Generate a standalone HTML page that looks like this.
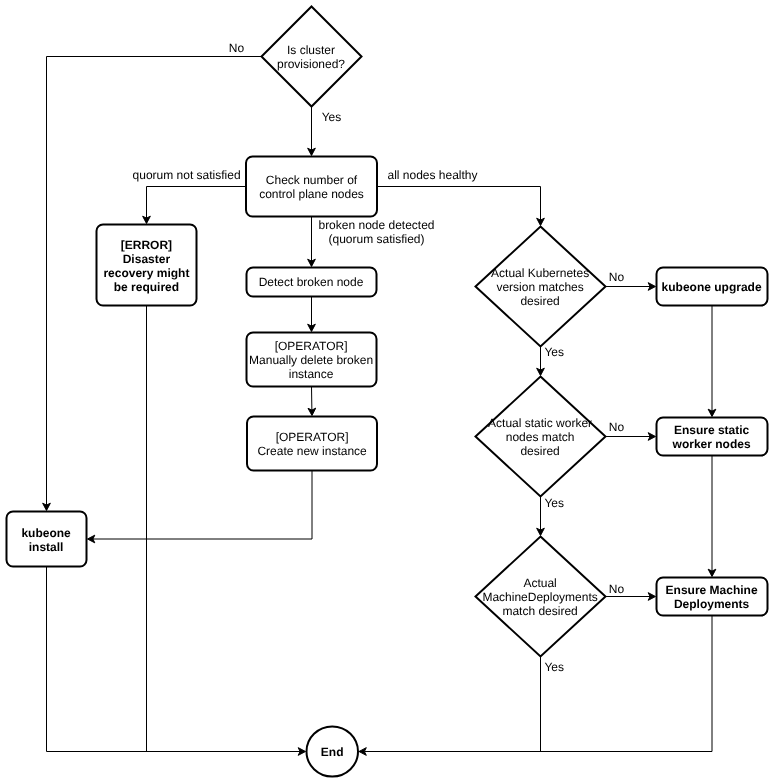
<!DOCTYPE html>
<html lang="en"><head><meta charset="utf-8"><title>KubeOne reconcile flow</title>
<style>
html,body{margin:0;padding:0;background:#fff;}
svg{display:block;will-change:transform;font-family:"Liberation Sans",Arial,sans-serif;fill:#000;text-rendering:geometricPrecision;}
</style></head><body>
<svg width="773" height="782" viewBox="0 0 773 782">
<rect x="0" y="0" width="773" height="782" fill="#fff"/>
<g>
<path d="M 261.5 56.5 L 46.5 56.5 L 46.5 505.1" fill="none" stroke="#000" stroke-miterlimit="10"/>
<path d="M 46.5 510.5 L 42.65 503.2 L 46.5 505.1 L 50.35 503.2 Z" fill="#000" stroke="#000" stroke-miterlimit="10"/>
<path d="M 311.5 106.5 L 311.5 150.1" fill="none" stroke="#000" stroke-miterlimit="10"/>
<path d="M 311.5 155.5 L 307.65 148.2 L 311.5 150.1 L 315.35 148.2 Z" fill="#000" stroke="#000" stroke-miterlimit="10"/>
<path d="M 246 186.5 L 146.5 186.5 L 146.5 218.1" fill="none" stroke="#000" stroke-miterlimit="10"/>
<path d="M 146.5 223.5 L 142.65 216.2 L 146.5 218.1 L 150.35 216.2 Z" fill="#000" stroke="#000" stroke-miterlimit="10"/>
<path d="M 377 186.5 L 540.5 186.5 L 540.5 220.1" fill="none" stroke="#000" stroke-miterlimit="10"/>
<path d="M 540.5 225.5 L 536.65 218.2 L 540.5 220.1 L 544.35 218.2 Z" fill="#000" stroke="#000" stroke-miterlimit="10"/>
<path d="M 311.5 216.5 L 311.5 261.1" fill="none" stroke="#000" stroke-miterlimit="10"/>
<path d="M 311.5 266.5 L 307.65 259.2 L 311.5 261.1 L 315.35 259.2 Z" fill="#000" stroke="#000" stroke-miterlimit="10"/>
<path d="M 311.5 296.5 L 311.5 326.1" fill="none" stroke="#000" stroke-miterlimit="10"/>
<path d="M 311.5 331.5 L 307.65 324.2 L 311.5 326.1 L 315.35 324.2 Z" fill="#000" stroke="#000" stroke-miterlimit="10"/>
<path d="M 311.5 386.5 L 311.89 410.1" fill="none" stroke="#000" stroke-miterlimit="10"/>
<path d="M 311.98 415.5 L 308.01 408.27 L 311.89 410.1 L 315.71 408.14 Z" fill="#000" stroke="#000" stroke-miterlimit="10"/>
<path d="M 312 470.5 L 312 539 L 92.9 539" fill="none" stroke="#000" stroke-miterlimit="10"/>
<path d="M 87.5 539 L 94.8 535.15 L 92.9 539 L 94.8 542.85 Z" fill="#000" stroke="#000" stroke-miterlimit="10"/>
<path d="M 46.5 566.5 L 46.5 751.5 L 300.1 751.5" fill="none" stroke="#000" stroke-miterlimit="10"/>
<path d="M 305.5 751.5 L 298.2 755.35 L 300.1 751.5 L 298.2 747.65 Z" fill="#000" stroke="#000" stroke-miterlimit="10"/>
<path d="M 146.5 305.5 L 146.5 751.5" fill="none" stroke="#000" stroke-miterlimit="10"/>
<path d="M 540.5 346.5 L 540.5 370.1" fill="none" stroke="#000" stroke-miterlimit="10"/>
<path d="M 540.5 375.5 L 536.65 368.2 L 540.5 370.1 L 544.35 368.2 Z" fill="#000" stroke="#000" stroke-miterlimit="10"/>
<path d="M 540.5 496.5 L 540.5 530.1" fill="none" stroke="#000" stroke-miterlimit="10"/>
<path d="M 540.5 535.5 L 536.65 528.2 L 540.5 530.1 L 544.35 528.2 Z" fill="#000" stroke="#000" stroke-miterlimit="10"/>
<path d="M 540.5 656.5 L 540.5 751.5" fill="none" stroke="#000" stroke-miterlimit="10"/>
<path d="M 605.5 286.5 L 650.1 286.5" fill="none" stroke="#000" stroke-miterlimit="10"/>
<path d="M 655.5 286.5 L 648.2 290.35 L 650.1 286.5 L 648.2 282.65 Z" fill="#000" stroke="#000" stroke-miterlimit="10"/>
<path d="M 605.5 436.5 L 650.1 436.5" fill="none" stroke="#000" stroke-miterlimit="10"/>
<path d="M 655.5 436.5 L 648.2 440.35 L 650.1 436.5 L 648.2 432.65 Z" fill="#000" stroke="#000" stroke-miterlimit="10"/>
<path d="M 605.5 596.5 L 650.1 596.5" fill="none" stroke="#000" stroke-miterlimit="10"/>
<path d="M 655.5 596.5 L 648.2 600.35 L 650.1 596.5 L 648.2 592.65 Z" fill="#000" stroke="#000" stroke-miterlimit="10"/>
<path d="M 712 305.5 L 712 411.1" fill="none" stroke="#000" stroke-miterlimit="10"/>
<path d="M 712 416.5 L 708.15 409.2 L 712 411.1 L 715.85 409.2 Z" fill="#000" stroke="#000" stroke-miterlimit="10"/>
<path d="M 712 455.5 L 712 571.1" fill="none" stroke="#000" stroke-miterlimit="10"/>
<path d="M 712 576.5 L 708.15 569.2 L 712 571.1 L 715.85 569.2 Z" fill="#000" stroke="#000" stroke-miterlimit="10"/>
<path d="M 712 615.5 L 712 751.5 L 364.4 751.5" fill="none" stroke="#000" stroke-miterlimit="10"/>
<path d="M 359 751.5 L 366.3 747.65 L 364.4 751.5 L 366.3 755.35 Z" fill="#000" stroke="#000" stroke-miterlimit="10"/>
</g>
<g>
<path d="M 311.5 6.5 L 361.5 56.5 L 311.5 106.5 L 261.5 56.5 Z" fill="#fff" stroke="#000" stroke-width="2" stroke-miterlimit="10"/>
<rect x="246" y="156.5" width="131" height="60" rx="6.5" ry="6.5" fill="#fff" stroke="#000" stroke-width="2"/>
<rect x="96.5" y="224.5" width="100" height="81" rx="6.5" ry="6.5" fill="#fff" stroke="#000" stroke-width="2"/>
<rect x="246.5" y="267.5" width="130" height="29" rx="6.5" ry="6.5" fill="#fff" stroke="#000" stroke-width="2"/>
<rect x="246.5" y="332.5" width="130" height="54" rx="6.5" ry="6.5" fill="#fff" stroke="#000" stroke-width="2"/>
<rect x="247" y="416.5" width="130" height="54" rx="6.5" ry="6.5" fill="#fff" stroke="#000" stroke-width="2"/>
<rect x="6.5" y="511.5" width="80" height="55" rx="6.5" ry="6.5" fill="#fff" stroke="#000" stroke-width="2"/>
<path d="M 540.5 226.5 L 605.5 286.5 L 540.5 346.5 L 475.5 286.5 Z" fill="#fff" stroke="#000" stroke-width="2" stroke-miterlimit="10"/>
<path d="M 540.5 376.5 L 605.5 436.5 L 540.5 496.5 L 475.5 436.5 Z" fill="#fff" stroke="#000" stroke-width="2" stroke-miterlimit="10"/>
<path d="M 540.5 536.5 L 605.5 596.5 L 540.5 656.5 L 475.5 596.5 Z" fill="#fff" stroke="#000" stroke-width="2" stroke-miterlimit="10"/>
<rect x="656.5" y="267.5" width="111" height="38" rx="6.5" ry="6.5" fill="#fff" stroke="#000" stroke-width="2"/>
<rect x="656.5" y="417.5" width="111" height="38" rx="6.5" ry="6.5" fill="#fff" stroke="#000" stroke-width="2"/>
<rect x="656.5" y="577.5" width="111" height="38" rx="6.5" ry="6.5" fill="#fff" stroke="#000" stroke-width="2"/>
<ellipse cx="332.25" cy="751.5" rx="25.75" ry="25" fill="#fff" stroke="#000" stroke-width="2"/>
</g>
<g>
<text x="311" y="54" font-size="12" text-anchor="middle">Is cluster</text>
<text x="311" y="68" font-size="12" text-anchor="middle">provisioned?</text>
<text x="311.5" y="184" font-size="12" text-anchor="middle">Check number of</text>
<text x="311.5" y="198" font-size="12" text-anchor="middle">control plane nodes</text>
<text x="146.4" y="249" font-size="12" text-anchor="middle" font-weight="bold">[ERROR]</text>
<text x="146.4" y="263" font-size="12" text-anchor="middle" font-weight="bold">Disaster</text>
<text x="146.4" y="277" font-size="12" text-anchor="middle" font-weight="bold">recovery might</text>
<text x="146.4" y="291" font-size="12" text-anchor="middle" font-weight="bold">be required</text>
<text x="311" y="286" font-size="12" text-anchor="middle">Detect broken node</text>
<text x="311.1" y="350" font-size="12" text-anchor="middle">[OPERATOR]</text>
<text x="311.1" y="364" font-size="12" text-anchor="middle">Manually delete broken</text>
<text x="311.1" y="378" font-size="12" text-anchor="middle">instance</text>
<text x="312.1" y="441" font-size="12" text-anchor="middle">[OPERATOR]</text>
<text x="312.1" y="455" font-size="12" text-anchor="middle">Create new instance</text>
<text x="46.1" y="537" font-size="12" text-anchor="middle" font-weight="bold">kubeone</text>
<text x="46.1" y="551" font-size="12" text-anchor="middle" font-weight="bold">install</text>
<text x="540.1" y="277" font-size="12" text-anchor="middle">Actual Kubernetes</text>
<text x="540.1" y="291" font-size="12" text-anchor="middle">version matches</text>
<text x="540.1" y="305" font-size="12" text-anchor="middle">desired</text>
<text x="540.1" y="427" font-size="12" text-anchor="middle">Actual static worker</text>
<text x="540.1" y="441" font-size="12" text-anchor="middle">nodes match</text>
<text x="540.1" y="455" font-size="12" text-anchor="middle">desired</text>
<text x="540.1" y="587" font-size="12" text-anchor="middle">Actual</text>
<text x="540.1" y="601" font-size="12" text-anchor="middle">MachineDeployments</text>
<text x="540.1" y="615" font-size="12" text-anchor="middle">match desired</text>
<text x="711.6" y="291" font-size="12" text-anchor="middle" font-weight="bold">kubeone upgrade</text>
<text x="711.6" y="434" font-size="12" text-anchor="middle" font-weight="bold">Ensure static</text>
<text x="711.6" y="448" font-size="12" text-anchor="middle" font-weight="bold">worker nodes</text>
<text x="711.6" y="594" font-size="12" text-anchor="middle" font-weight="bold">Ensure Machine</text>
<text x="711.6" y="608" font-size="12" text-anchor="middle" font-weight="bold">Deployments</text>
<text x="332.2" y="756" font-size="12" text-anchor="middle" font-weight="bold">End</text>
<text x="236.5" y="52" font-size="12" text-anchor="middle">No</text>
<text x="331.5" y="121" font-size="12" text-anchor="middle">Yes</text>
<text x="186.6" y="179" font-size="12" text-anchor="middle">quorum not satisfied</text>
<text x="432.5" y="179" font-size="12" text-anchor="middle">all nodes healthy</text>
<text x="376.5" y="229" font-size="12" text-anchor="middle">broken node detected</text>
<text x="376.5" y="243" font-size="12" text-anchor="middle">(quorum satisfied)</text>
<text x="616.4" y="281" font-size="12" text-anchor="middle">No</text>
<text x="616.4" y="431" font-size="12" text-anchor="middle">No</text>
<text x="616.4" y="593" font-size="12" text-anchor="middle">No</text>
<text x="554.2" y="356" font-size="12" text-anchor="middle">Yes</text>
<text x="554.2" y="507" font-size="12" text-anchor="middle">Yes</text>
<text x="554.2" y="671" font-size="12" text-anchor="middle">Yes</text>
</g>
</svg>
</body></html>
